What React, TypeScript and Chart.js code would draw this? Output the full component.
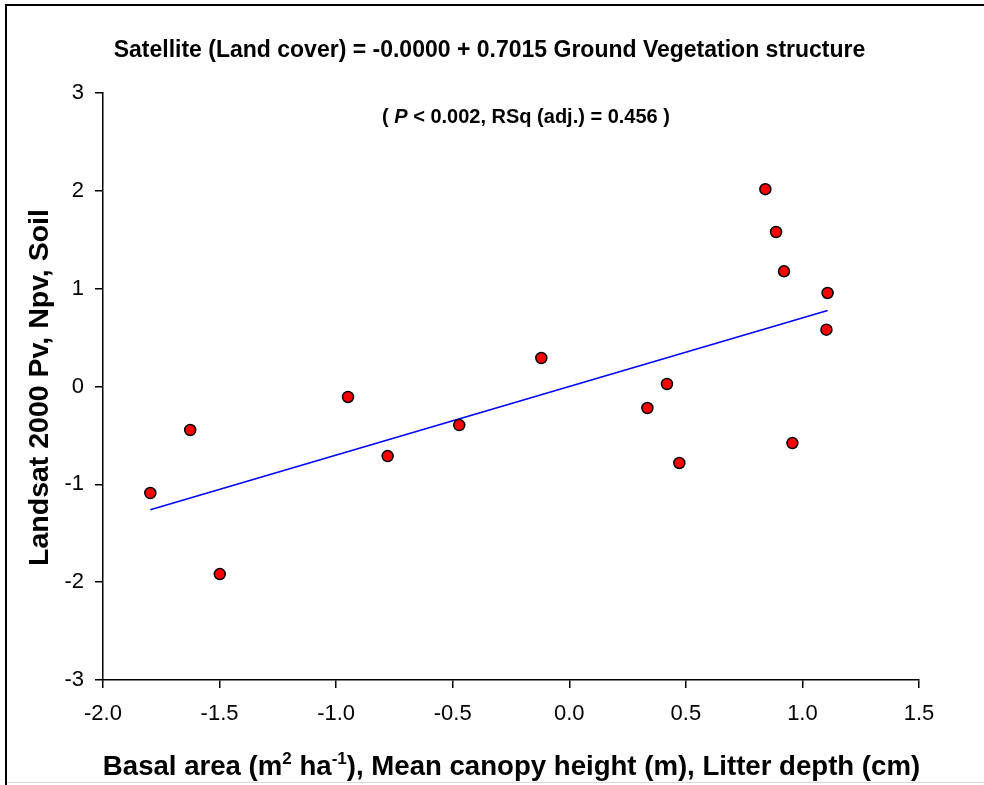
import React, { useEffect, useRef } from "react";
import { Chart, registerables } from "chart.js";

Chart.register(...registerables);

// Standardized ground vegetation structure score (x) vs Landsat score (y)
const groundStructure = [-1.797, -1.626, -1.499, -0.949, -0.779, -0.472, -0.12, 0.335, 0.419, 0.472, 0.841, 0.887, 0.921, 0.957, 1.108, 1.103];
const landsatScore = [-1.089, -0.445, -1.917, -0.107, -0.711, -0.394, 0.291, -0.22, 0.026, -0.782, 2.017, 1.579, 1.177, -0.578, 0.956, 0.581];

const fitIntercept = -0.0;
const fitSlope = 0.7015;

const xTicks = [-2.0, -1.5, -1.0, -0.5, 0.0, 0.5, 1.0, 1.5];
const yTicks = [-3, -2, -1, 0, 1, 2, 3];

const titleLine1 = "Satellite (Land cover) = -0.0000 + 0.7015 Ground Vegetation structure";
const yTitle = "Landsat 2000 Pv, Npv, Soil";

const FONT = "'Liberation Sans', Arial, sans-serif";

const textPlugin = {
  id: "texts",
  afterDraw(chart: any) {
    const ctx = chart.ctx as CanvasRenderingContext2D;
    ctx.save();
    // frame
    ctx.strokeStyle = "#000";
    ctx.lineWidth = 2;
    ctx.beginPath();
    ctx.moveTo(6, 785);
    ctx.lineTo(6, 5);
    ctx.lineTo(984, 5);
    ctx.stroke();
    ctx.strokeStyle = "#d8d8d8";
    ctx.lineWidth = 1;
    ctx.beginPath();
    ctx.moveTo(7, 782.5);
    ctx.lineTo(984, 782.5);
    ctx.stroke();

    ctx.fillStyle = "#000";
    ctx.textBaseline = "alphabetic";

    // title line 1
    ctx.font = `bold 23px ${FONT}`;
    ctx.textAlign = "center";
    ctx.fillText(titleLine1, 489.5, 57);

    // title line 2 with italic P
    const parts: [string, string][] = [
      ["( ", `bold 20px ${FONT}`],
      ["P", `italic bold 20px ${FONT}`],
      [" < 0.002, RSq (adj.) = 0.456 )", `bold 20px ${FONT}`],
    ];
    let total = 0;
    for (const [t, f] of parts) {
      ctx.font = f;
      total += ctx.measureText(t).width;
    }
    let x = 526 - total / 2;
    ctx.textAlign = "left";
    for (const [t, f] of parts) {
      ctx.font = f;
      ctx.fillText(t, x, 122.5);
      x += ctx.measureText(t).width;
    }

    // y title
    ctx.save();
    ctx.translate(47.5, 387.5);
    ctx.rotate(-Math.PI / 2);
    ctx.font = `bold 28.5px ${FONT}`;
    ctx.textAlign = "center";
    ctx.fillText(yTitle, 0, 0);
    ctx.restore();

    // x title with superscripts
    const big = `bold 27.6px ${FONT}`;
    const sup = `bold 17px ${FONT}`;
    const xparts: [string, string, number][] = [
      ["Basal area (m", big, 0],
      ["2", sup, -11],
      [" ha", big, 0],
      ["-1", sup, -11],
      ["), Mean canopy height (m), Litter depth (cm)", big, 0],
    ];
    let tw = 0;
    for (const [t, f] of xparts) {
      ctx.font = f;
      tw += ctx.measureText(t).width;
    }
    let xx = 511.5 - tw / 2;
    ctx.textAlign = "left";
    for (const [t, f, dy] of xparts) {
      ctx.font = f;
      ctx.fillText(t, xx, 775 + dy);
      xx += ctx.measureText(t).width;
    }
    ctx.restore();
  },
};

export default function App() {
  const ref = useRef<HTMLCanvasElement | null>(null);
  useEffect(() => {
    if (!ref.current) return;
    const pts = groundStructure.map((x, i) => ({ x, y: landsatScore[i] }));
    const xmin = Math.min(...groundStructure);
    const xmax = Math.max(...groundStructure);
    const fit = [
      { x: xmin, y: fitIntercept + fitSlope * xmin },
      { x: xmax, y: fitIntercept + fitSlope * xmax },
    ];
    const chart = new Chart(ref.current, {
      type: "scatter",
      data: {
        datasets: [
          {
            type: "scatter",
            data: pts,
            backgroundColor: "#ff0000",
            borderColor: "#000000",
            borderWidth: 1.5,
            pointRadius: 5.5,
            order: 0,
          },
          {
            type: "line",
            data: fit,
            borderColor: "#0000ff",
            borderWidth: 1.6,
            pointRadius: 0,
            fill: false,
            order: 1,
          } as any,
        ],
      },
      options: {
        responsive: false,
        animation: false,
        layout: { padding: { top: 93, right: 65, left: 0, bottom: 0 } },
        plugins: { legend: { display: false }, tooltip: { enabled: false }, title: { display: false } },
        scales: {
          x: {
            type: "linear",
            min: -2,
            max: 1.5,
            afterBuildTicks: (s: any) => {
              s.ticks = xTicks.map((v) => ({ value: v }));
            },
            afterFit: (s: any) => {
              s.height = 105;
            },
            ticks: {
              callback: (v: any) => Number(v).toFixed(1),
              color: "#000",
              font: { family: FONT, size: 22 },
              padding: 13,
              maxRotation: 0,
            },
            grid: { drawOnChartArea: false, drawTicks: true, tickLength: 8, color: "#000", lineWidth: 1.5 },
            border: { display: true, color: "#000", width: 1.5 },
          },
          y: {
            type: "linear",
            min: -3,
            max: 3,
            afterBuildTicks: (s: any) => {
              s.ticks = yTicks.map((v) => ({ value: v }));
            },
            afterFit: (s: any) => {
              s.width = 103;
            },
            ticks: {
              callback: (v: any) => String(v),
              color: "#000",
              font: { family: FONT, size: 22 },
              padding: 11,
            },
            grid: { drawOnChartArea: false, drawTicks: true, tickLength: 8, color: "#000", lineWidth: 1.5 },
            border: { display: true, color: "#000", width: 1.5 },
          },
        },
      },
      plugins: [textPlugin],
    });
    return () => chart.destroy();
  }, []);
  return (
    <div style={{ position: "fixed", left: 0, top: 0, width: 984, height: 785, background: "#fff" }}>
      <canvas ref={ref} width={984} height={785} style={{ display: "block", width: 984, height: 785 }} />
    </div>
  );
}
